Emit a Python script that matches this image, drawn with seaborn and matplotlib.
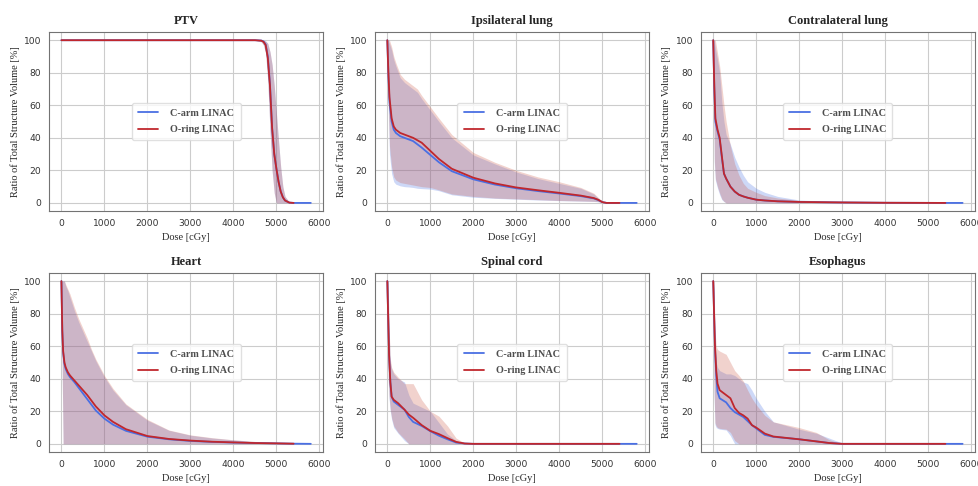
import numpy as np
import pandas as pd
import matplotlib
matplotlib.use("Agg")
import matplotlib.pyplot as plt
import seaborn as sns

# ---- data ----
STRUCTURES = ["PTV", "Ipsilateral lung", "Contralateral lung", "Heart", "Spinal cord", "Esophagus"]
MACHINES = ["C-arm LINAC", "O-ring LINAC"]

# PTV
ptv_dose = [0, 4500, 4650, 4700, 4750, 4800, 4850, 4900, 4950, 5000, 5050, 5100, 5150, 5200, 5300, 5400, 5800]
ptv_c_mean = [100, 100, 99.8, 99.3, 97.5, 90, 73, 46, 30, 21, 13, 7, 3.5, 1.5, 0.2, 0, 0]
ptv_c_lo = [100, 100, 99, 97, 92, 75, 45, 20, 6, 0, 0, 0, 0, 0, 0, 0, 0]
ptv_c_hi = [100, 100, 100, 100, 99.5, 98, 93, 85, 72, 55, 38, 22, 10, 4, 0.5, 0, 0]
ptv_o_mean = [100, 100, 99.7, 99, 97, 89, 72, 46, 30, 21, 13, 7, 3.5, 1.5, 0.2, 0]
ptv_o_lo = [100, 100, 99, 97, 92, 75, 45, 20, 6, 0, 0, 0, 0, 0, 0, 0]
ptv_o_hi = [100, 100, 100, 100, 99.5, 98, 93, 85, 72, 55, 38, 22, 10, 4, 0.5, 0]

# Ipsilateral lung
ipsi_dose = [0, 25, 50, 100, 150, 200, 300, 400, 500, 600, 700, 800, 1000, 1200, 1500, 2000, 2500,
             3000, 3500, 4000, 4500, 4800, 4900, 5000, 5100, 5400, 5800]
ipsi_c_mean = [100, 78, 62, 50, 45, 43, 41, 40, 39, 38, 36, 34, 29.5, 25, 19.5, 14.5, 11.3,
               9, 7.3, 5.8, 4.2, 2.8, 1.8, 0.5, 0, 0, 0]
ipsi_c_lo = [100, 55, 30, 18, 13, 11.5, 10.5, 10, 9.8, 9.5, 9, 8.8, 8.5, 7.5, 5, 3.5, 2.8,
             2.3, 1.8, 1.4, 1.1, 0.9, 0.7, 0.2, 0, 0, 0]
ipsi_c_hi = [100, 100, 98, 94, 88, 84, 77, 74, 72, 70, 68, 64, 57, 50, 40, 29.5, 24,
             19, 15, 12, 9, 5.5, 3, 1, 0, 0, 0]
ipsi_o_mean = [100, 80, 65, 52, 47, 45, 43, 42, 41, 40, 38.5, 37, 32, 27, 21, 15.5, 12,
               9.5, 7.8, 6.2, 4.5, 3, 2, 0.5, 0, 0]
ipsi_o_lo = [100, 60, 35, 22, 16, 14, 12.5, 12, 11.5, 11, 10.5, 10, 9.5, 8, 5.5, 4, 3,
             2.5, 2, 1.5, 1.2, 1, 0.8, 0.2, 0, 0]
ipsi_o_hi = [100, 100, 100, 96, 90, 86, 79, 76, 74, 72, 70, 66, 59, 52, 42, 31, 25,
             20, 16, 13, 9.5, 6, 3.5, 1, 0, 0]

# Contralateral lung
contra_dose = [0, 25, 50, 100, 150, 200, 250, 300, 400, 500, 600, 700, 800, 1000, 1200, 1500,
               2000, 3000, 4000, 5400, 5800]
contra_c_mean = [100, 70, 50, 44, 39, 28, 18, 15, 10, 7, 5, 4, 3.2, 2, 1.5, 1, 0.6, 0.3, 0.1, 0, 0]
contra_c_lo = [100, 25, 14, 9, 5, 2, 0.8, 0, 0, 0, 0, 0, 0, 0, 0, 0, 0, 0, 0, 0, 0]
contra_c_hi = [100, 100, 95, 88, 80, 62, 50, 42, 36, 28, 22, 17, 13, 9, 6.5, 4, 1.8, 0.6, 0.2, 0, 0]
contra_o_mean = [100, 72, 52, 45, 40, 29, 18, 15, 10, 7, 5, 4, 3.2, 2, 1.5, 1, 0.6, 0.3, 0.1, 0]
contra_o_lo = [100, 27, 15, 10, 6, 2.5, 1, 0, 0, 0, 0, 0, 0, 0, 0, 0, 0, 0, 0, 0]
contra_o_hi = [100, 100, 100, 92, 84, 72, 60, 50, 35, 24, 17, 12, 9, 6.5, 4.5, 3, 1.5, 0.5, 0.2, 0]

# Heart
heart_dose = [0, 10, 20, 40, 70, 100, 150, 200, 300, 400, 500, 600, 700, 800, 1000, 1200, 1500,
              2000, 2500, 3000, 3500, 4000, 4500, 5000, 5400, 5800]
heart_c_mean = [100, 84, 69, 56, 49, 46, 43, 41, 38, 34.5, 31, 27.5, 24, 20.5, 15.5, 11.8, 8,
                4.4, 2.8, 1.8, 1.2, 0.8, 0.5, 0.3, 0.1, 0]
heart_c_lo = [100, 80, 40, 0, 0, 0, 0, 0, 0, 0, 0, 0, 0, 0, 0, 0, 0,
              0, 0, 0, 0, 0, 0, 0, 0, 0]
heart_c_hi = [100, 100, 100, 100, 100, 97, 94, 90, 82, 75, 69, 63, 57, 51, 41, 33, 24,
              14.5, 8.3, 5.3, 3.6, 2.4, 1.4, 0.7, 0.3, 0]
heart_o_mean = [100, 85, 70, 57, 50, 47, 44, 42, 39, 36, 33, 30, 26.5, 23, 17.5, 13.5, 9,
                4.8, 3, 2, 1.3, 0.9, 0.5, 0.3, 0.1]
heart_o_lo = [100, 80, 40, 0, 0, 0, 0, 0, 0, 0, 0, 0, 0, 0, 0, 0, 0,
              0, 0, 0, 0, 0, 0, 0, 0]
heart_o_hi = [100, 100, 100, 100, 100, 98, 95, 92, 84, 77, 71, 65, 58, 52, 42, 34, 24.5,
              15, 8.5, 5.5, 3.8, 2.5, 1.5, 0.8, 0.3]

# Spinal cord
cord_dose = [0, 20, 40, 70, 100, 150, 250, 400, 500, 600, 800, 1000, 1200, 1400, 1600, 1800, 2000, 5400, 5800]
cord_c_mean = [100, 78, 55, 38, 29, 26, 24, 21, 16.5, 13.5, 11, 7.8, 5, 2.8, 0.8, 0.2, 0, 0, 0]
cord_c_lo = [100, 40, 28, 20, 15, 10, 6.5, 2, 0, 0, 0, 0, 0, 0, 0, 0, 0, 0, 0]
cord_c_hi = [100, 100, 70, 50, 46, 43, 40, 38, 30, 25, 22.5, 20, 13, 6, 2, 0.3, 0, 0, 0]
cord_o_mean = [100, 78, 55, 38, 29, 27, 25, 21, 18, 16, 11.5, 8, 6, 3.5, 1.2, 0.2, 0, 0]
cord_o_lo = [100, 42, 30, 21, 16, 11, 7, 3, 0, 0, 0, 0, 0, 0, 0, 0, 0, 0]
cord_o_hi = [100, 100, 72, 52, 47, 44, 41, 37, 37, 37, 27, 20, 17, 11, 3.5, 0.5, 0, 0]

# Esophagus
eso_dose = [0, 20, 40, 70, 100, 150, 300, 400, 500, 600, 700, 800, 900, 1000, 1200, 1400,
            2000, 2400, 2700, 3000, 5400, 5800]
eso_c_mean = [100, 80, 60, 42, 32, 28, 25.5, 22, 19.5, 18, 16.5, 14, 11.5, 9.5, 5.5, 4.3,
              2.8, 1.5, 0.5, 0, 0, 0]
eso_c_lo = [100, 30, 12, 10, 9.5, 9, 8.5, 5, 0, 0, 0, 0, 0, 0, 0, 0,
            0, 0, 0, 0, 0, 0]
eso_c_hi = [100, 95, 60, 50, 47, 45, 43, 43, 42, 40, 38, 37, 33, 28, 20, 13.5,
            9, 6.5, 3.5, 0.5, 0, 0]
eso_o_mean = [100, 80, 61, 45, 37, 33, 30, 28, 22, 19, 17.5, 15.5, 11.5, 10, 6.3, 4.5,
              2.8, 1.5, 0.5, 0, 0]
eso_o_lo = [100, 32, 13, 11, 10, 9.5, 9, 7, 2, 0, 0, 0, 0, 0, 0, 0,
            0, 0, 0, 0, 0]
eso_o_hi = [100, 100, 70, 60, 58, 57, 55, 50, 45, 42, 38.5, 33, 28, 24, 17.5, 13.5,
            10, 7, 2.5, 0, 0]

DOSES = [ptv_dose, ipsi_dose, contra_dose, heart_dose, cord_dose, eso_dose]
C_MEAN = [ptv_c_mean, ipsi_c_mean, contra_c_mean, heart_c_mean, cord_c_mean, eso_c_mean]
C_LO = [ptv_c_lo, ipsi_c_lo, contra_c_lo, heart_c_lo, cord_c_lo, eso_c_lo]
C_HI = [ptv_c_hi, ipsi_c_hi, contra_c_hi, heart_c_hi, cord_c_hi, eso_c_hi]
O_MEAN = [ptv_o_mean, ipsi_o_mean, contra_o_mean, heart_o_mean, cord_o_mean, eso_o_mean]
O_LO = [ptv_o_lo, ipsi_o_lo, contra_o_lo, heart_o_lo, cord_o_lo, eso_o_lo]
O_HI = [ptv_o_hi, ipsi_o_hi, contra_o_hi, heart_o_hi, cord_o_hi, eso_o_hi]

LINE_COLORS = {"C-arm LINAC": "#4a6fe3", "O-ring LINAC": "#c0272d"}
FILL_COLORS = {"C-arm LINAC": "#4169e1", "O-ring LINAC": "#cc5a48"}


def main():
    sns.set_style("whitegrid", {
        "axes.edgecolor": "0.45",
        "grid.color": "0.80",
        "axes.linewidth": 1.0,
    })
    plt.rcParams["font.family"] = ["DejaVu Sans"]
    serif = ["Liberation Serif", "DejaVu Serif"]

    fig, axs = plt.subplots(2, 3, figsize=(9.79, 4.86), dpi=100)
    fig.subplots_adjust(left=0.050, right=0.996, top=0.934, bottom=0.070,
                        wspace=0.188, hspace=0.346)

    for i, ax in enumerate(axs.flat):
        dose = np.array(DOSES[i], dtype=float)
        n_o = len(O_MEAN[i])
        rows = []
        for d, v in zip(dose, C_MEAN[i]):
            rows.append({"Dose": d, "Volume": v, "Machine": "C-arm LINAC"})
        for d, v in zip(dose[:n_o], O_MEAN[i]):
            rows.append({"Dose": d, "Volume": v, "Machine": "O-ring LINAC"})
        df = pd.DataFrame(rows)

        # spread bands
        ax.fill_between(dose, C_LO[i], C_HI[i], color=FILL_COLORS["C-arm LINAC"],
                        alpha=0.26, linewidth=0)
        ax.fill_between(dose[:n_o], O_LO[i], O_HI[i], color=FILL_COLORS["O-ring LINAC"],
                        alpha=0.27, linewidth=0)

        sns.lineplot(data=df, x="Dose", y="Volume", hue="Machine", palette=LINE_COLORS,
                     hue_order=MACHINES, ax=ax, linewidth=1.3, estimator=None,
                     sort=False, legend=True)

        ax.set_title(STRUCTURES[i], family=serif, fontweight="bold", fontsize=9, pad=6)
        ax.set_xlabel("Dose [cGy]", family=serif, fontsize=7.5, labelpad=4)
        ax.set_ylabel("Ratio of Total Structure Volume [%]", family=serif, fontsize=7.5, labelpad=3)
        ax.set_xticks([0, 1000, 2000, 3000, 4000, 5000, 6000])
        ax.set_yticks([0, 20, 40, 60, 80, 100])
        ax.tick_params(labelsize=6.6, colors="0.2", pad=2)

        handles, labels = ax.get_legend_handles_labels()
        ax.legend(handles, labels, loc="center", frameon=True, handlelength=2.0,
                  labelspacing=0.7, borderpad=0.6, handletextpad=1.2,
                  prop={"family": serif, "weight": "bold", "size": 7.3},
                  labelcolor="0.3", edgecolor="0.85", framealpha=0.8, fancybox=True)

    plt.savefig("out.png", dpi=100)
    plt.close()


if __name__ == "__main__":
    main()
